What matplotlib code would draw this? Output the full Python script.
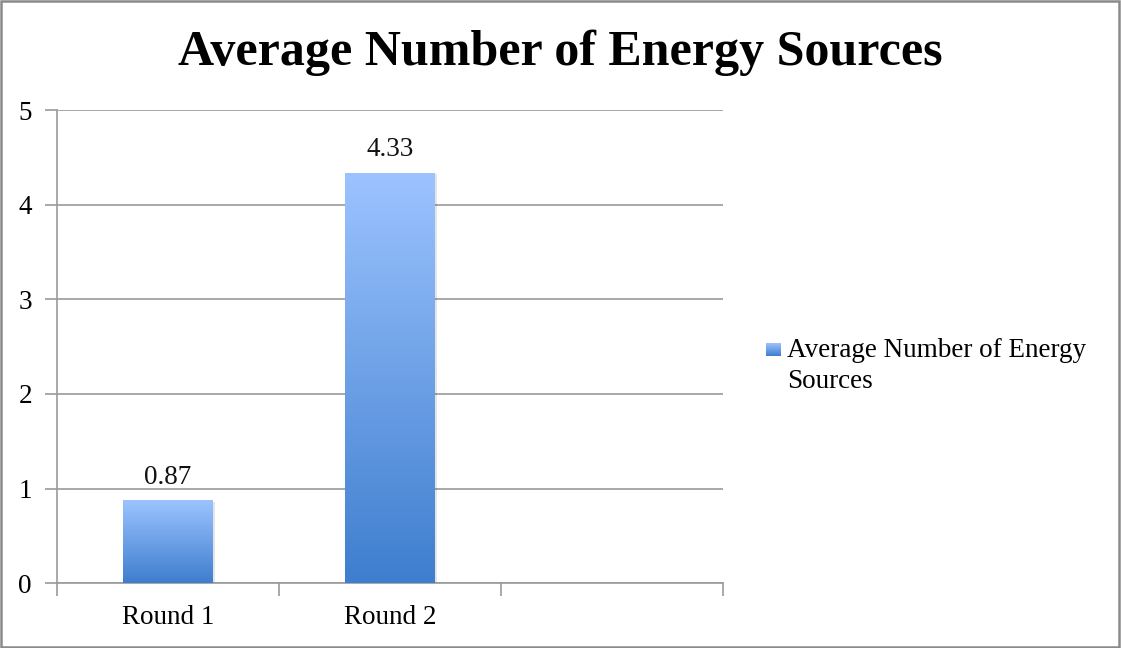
import numpy as np
import matplotlib
matplotlib.use("Agg")
import matplotlib.pyplot as plt
from matplotlib.patches import Rectangle
from matplotlib.colors import LinearSegmentedColormap

categories = ["Round 1", "Round 2", ""]
values = [0.87, 4.33]
series_name = "Average Number of Energy Sources"
legend_lines = ["Average Number of Energy", "Sources"]
yticks = [0, 1, 2, 3, 4, 5]

FONT = "Liberation Serif"
plt.rcParams["font.family"] = [FONT, "DejaVu Serif"]
FS = 19.5

fig = plt.figure(figsize=(11.21, 6.48), dpi=100)
ax = fig.add_axes([0.0508, 0.100, 0.5945, 0.730])

cmap = LinearSegmentedColormap.from_list("g", ["#3E7ECE", "#9CC3FF"])
grad = np.linspace(0, 1, 256).reshape(-1, 1)

n = len(categories)
xpos = np.arange(n)
bars = ax.bar(xpos[:len(values)], values, width=0.405, color="none", edgecolor="none", zorder=3)
for b in bars:
    x0, y0, w, h = b.get_x(), b.get_y(), b.get_width(), b.get_height()
    ax.add_patch(Rectangle((x0 + 0.008, y0), w, h - 0.01, facecolor="#000000", alpha=0.10, zorder=2))
    ax.imshow(grad, extent=[x0, x0 + w, y0, y0 + h], origin="lower", cmap=cmap,
              aspect="auto", zorder=3, interpolation="bilinear")
    ax.annotate(f"{h:.2f}", (x0 + w / 2, h), xytext=(0, 12.5), textcoords="offset points",
                ha="center", va="baseline", fontsize=FS, color="#111111")

ax.set_xlim(-0.5, n - 0.5)
ax.set_ylim(0, 5)
ax.set_yticks(yticks)
ax.set_yticklabels([str(t) for t in yticks], fontsize=FS)
ax.set_xticks(xpos)
ax.set_xticklabels(categories, fontsize=FS)
ax.set_xticks(np.arange(-0.5, n, 1.0), minor=True)
ax.tick_params(axis="x", which="major", length=0, pad=16)
ax.tick_params(axis="x", which="minor", length=9, width=1.2, color="#9a9a9a")
ax.tick_params(axis="y", length=9, width=1.2, color="#9a9a9a", pad=9)
ax.yaxis.grid(True, color="#9a9a9a", linewidth=1.2, zorder=0)
ax.set_axisbelow(True)
for s in ["top", "right"]:
    ax.spines[s].set_visible(False)
for s in ["left", "bottom"]:
    ax.spines[s].set_color("#9a9a9a")
    ax.spines[s].set_linewidth(1.2)

fig.text(0.5, 0.899, series_name, ha="center", va="baseline",
         fontsize=36, fontweight="bold")

# legend (drawn manually to match the original layout)
W, H = fig.get_size_inches() * fig.dpi
lax = fig.add_axes([766 / W, 1 - 356 / H, 15 / W, 13 / H])
lax.imshow(grad, origin="lower", cmap=cmap, aspect="auto", interpolation="bilinear")
lax.axis("off")
fig.text(787 / W, 1 - 357 / H, legend_lines[0], ha="left", va="baseline", fontsize=FS)
fig.text(787 / W, 1 - 388 / H, legend_lines[1], ha="left", va="baseline", fontsize=FS)

fig.patches.append(Rectangle((0.001, 0.002), 0.997, 0.996, transform=fig.transFigure,
                             fill=False, edgecolor="#8a8a8a", linewidth=1.8))

fig.savefig("out.png", dpi=100)
